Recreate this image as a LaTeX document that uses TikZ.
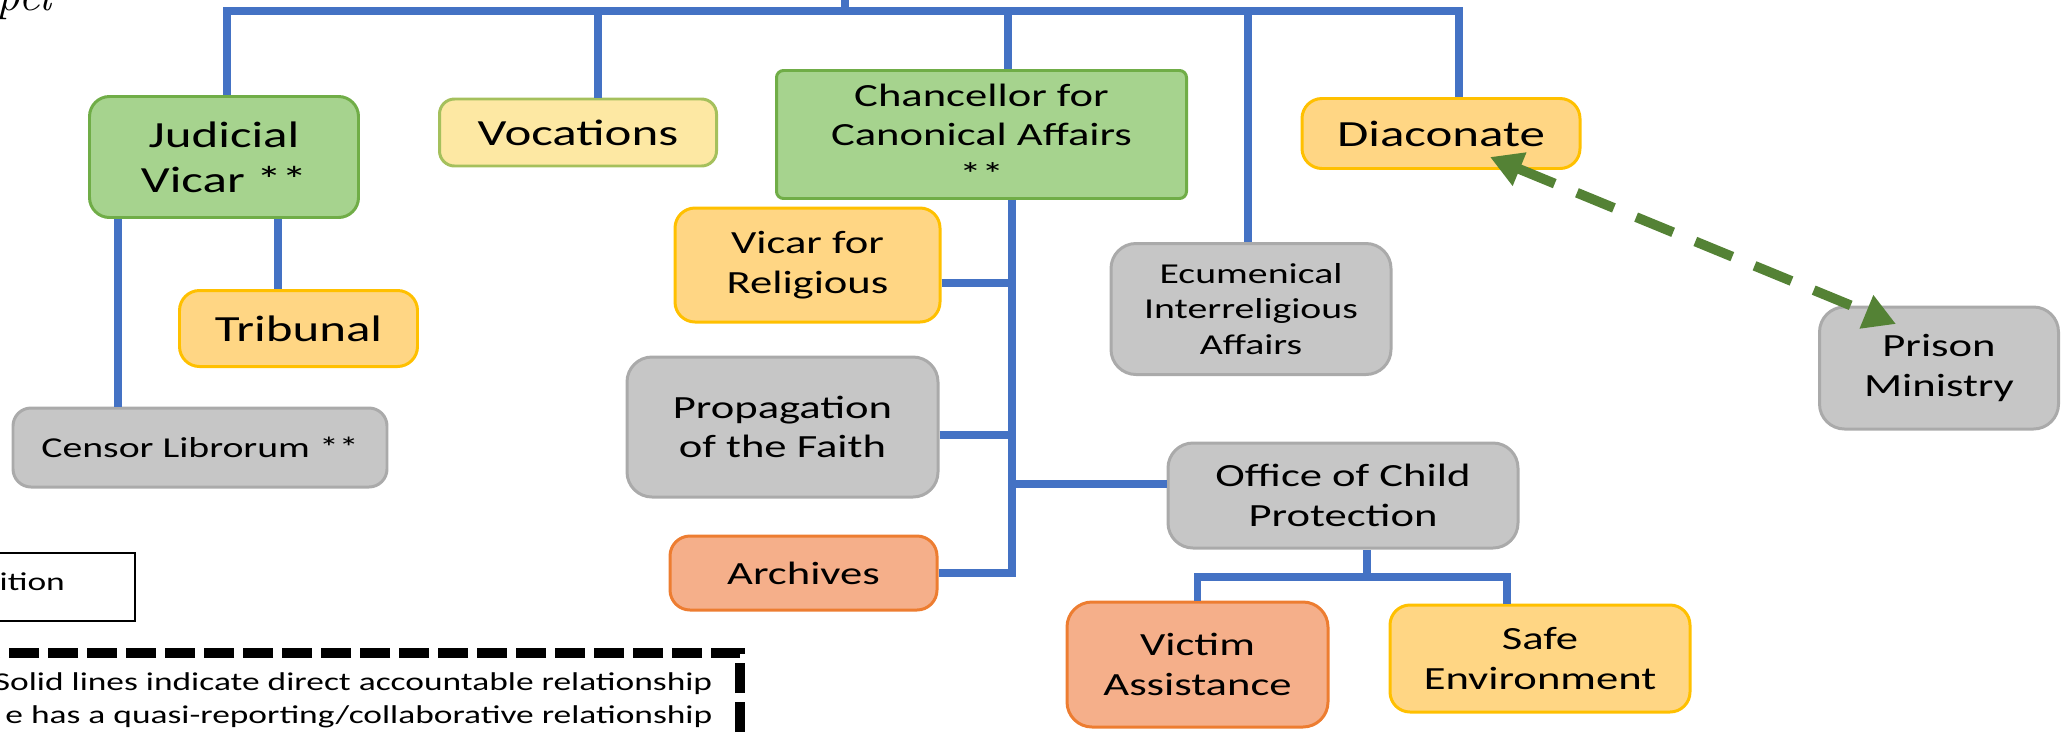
\documentclass[tikz,border=0pt]{standalone}
\usepackage{fontspec}
\usepackage{tikz}
\usetikzlibrary{arrows.meta}
\newfontfamily\calfont[FakeStretch=1.38]{Carlito}

\definecolor{linkblue}{RGB}{68,114,196}
\definecolor{arrowgreen}{RGB}{84,130,53}
\definecolor{greenfill}{RGB}{166,211,142}
\definecolor{greenline}{RGB}{112,173,71}
\definecolor{yellowfill}{RGB}{255,214,132}
\definecolor{yellowline}{RGB}{255,192,0}
\definecolor{palefill}{RGB}{253,232,163}
\definecolor{paleline}{RGB}{165,192,92}
\definecolor{grayfill}{RGB}{198,198,198}
\definecolor{grayline}{RGB}{170,170,170}
\definecolor{salmonfill}{RGB}{245,175,138}
\definecolor{salmonline}{RGB}{237,125,49}

\begin{document}
\begin{tikzpicture}[x=0.1mm,y=-0.1mm,
    box/.style={draw,line width=0.85pt,rounded corners=2mm,align=center,inner sep=0pt,text=black},
    greenbox/.style={box,fill=greenfill,draw=greenline},
    yellowbox/.style={box,fill=yellowfill,draw=yellowline},
    palebox/.style={box,fill=palefill,draw=paleline,rounded corners=1.5mm},
    graybox/.style={box,fill=grayfill,draw=grayline,rounded corners=2.5mm},
    salmonbox/.style={box,fill=salmonfill,draw=salmonline},
    bigtext/.style={font=\calfont\fontsize{10.5}{12.8}\selectfont},
    midtext/.style={font=\calfont\fontsize{9.2}{11.3}\selectfont},
    smalltext/.style={font=\calfont\fontsize{8.2}{10}\selectfont},
    legendtext/.style={font=\calfont\fontsize{7.3}{9}\selectfont,inner sep=0pt},
    link/.style={draw=linkblue,line width=2.2pt},
    quasi/.style={draw=arrowgreen,line width=2.8pt,dash pattern=on 4mm off 2.4mm,
        {Triangle[length=3.2mm,width=3.4mm]}-{Triangle[length=3.2mm,width=3.4mm]}}]
    \useasboundingbox (0,0) rectangle (2062,735);
    \clip (0,0) rectangle (2062,735);

    \node[anchor=base west,inner sep=0pt,font=\fontsize{13.5}{15}\selectfont\itshape] (pel) at (-4,10) {pel};

    \node[greenbox,bigtext,minimum width=26.9mm,minimum height=12.1mm] (jud) at (224,157) {Judicial\\Vicar **};
    \node[palebox,bigtext,minimum width=27.7mm,minimum height=6.7mm] (voc) at (578,132.5) {Vocations};
    \node[greenbox,midtext,rounded corners=0.7mm,minimum width=41mm,minimum height=12.8mm] (chan) at (981.5,134.5) {Chancellor for\\Canonical Affairs\\**};
    \node[yellowbox,bigtext,minimum width=27.8mm,minimum height=7mm] (dia) at (1441,133.5) {Diaconate};
    \node[yellowbox,midtext,minimum width=26.5mm,minimum height=11.4mm] (vfr) at (807.5,265) {Vicar for\\Religious};
    \node[yellowbox,bigtext,minimum width=23.8mm,minimum height=7.6mm] (tri) at (298.5,328.5) {Tribunal};
    \node[graybox,smalltext,minimum width=28mm,minimum height=13.1mm] (ecu) at (1251,309) {Ecumenical\\Interreligious\\Affairs};
    \node[graybox,midtext,minimum width=23.9mm,minimum height=12.2mm] (pri) at (1939,368) {Prison\\Ministry};
    \node[graybox,smalltext,rounded corners=1.8mm,minimum width=37.4mm,minimum height=7.9mm] (cen) at (200,447.5) {Censor Librorum **};
    \node[graybox,midtext,minimum width=31.1mm,minimum height=14mm] (pro) at (782.5,427) {Propagation\\of the Faith};
    \node[graybox,midtext,minimum width=35mm,minimum height=10.5mm] (ocp) at (1343,495.5) {Office of Child\\Protection};
    \node[salmonbox,midtext,minimum width=26.7mm,minimum height=7.4mm] (arc) at (803.5,573) {Archives};
    \node[salmonbox,midtext,rounded corners=2.5mm,minimum width=26.1mm,minimum height=12.5mm] (vas) at (1197.5,664.5) {Victim\\Assistance};
    \node[yellowbox,midtext,minimum width=30mm,minimum height=10.7mm] (safe) at (1540,658.5) {Safe\\Environment};

    \coordinate (head) at (845,-20);
    \coordinate (busL) at (227,11);
    \coordinate (busR) at (1459,11);
    \coordinate (trunk) at ([xshift=3.05mm]chan.south);
    \coordinate (split) at (1367,577);

    \draw[link] (busL |- jud.north) -- (busL) -- (busR) -- (busR |- dia.north);
    \draw[link] (head) -- (head |- busL);
    \draw[link] ([xshift=2mm]voc.north) -- ([xshift=2mm]voc.north |- busL);
    \draw[link] ([xshift=2.65mm]chan.north) -- ([xshift=2.65mm]chan.north |- busL);
    \draw[link] ([xshift=-0.3mm]ecu.north) -- ([xshift=-0.3mm]ecu.north |- busL);

    \draw[link] ([xshift=-10.6mm]jud.south) -- ([xshift=-10.6mm]jud.south |- cen.north);
    \draw[link] ([xshift=5.4mm]jud.south) -- ([xshift=5.4mm]jud.south |- tri.north);

    \draw[link] (trunk) -- (trunk |- arc.east) -- (arc.east);
    \draw[link] ([yshift=-1.8mm]vfr.east) -- ([yshift=-1.8mm]vfr.east -| trunk);
    \draw[link] ([yshift=-0.8mm]pro.east) -- ([yshift=-0.8mm]pro.east -| trunk);
    \draw[link] ([yshift=1.15mm]ocp.west) -- ([yshift=1.15mm]ocp.west -| trunk);

    \draw[link] (split) -- (split |- ocp.south);
    \draw[link] (vas.north) |- (split) -| ([xshift=-3.3mm]safe.north);

    \coordinate (diatip) at (1490,157);
    \coordinate (pritip) at (1896,324);
    \draw[quasi] (diatip) -- (pritip);

    \draw[line width=0.8pt] (-20,553) rectangle (135,621);
    \node[legendtext,anchor=west] (pos) at (-1,582) {ition};

    \draw[line width=2.8pt,dash pattern=on 3mm off 0.9mm] (-20,653) rectangle (740,800);
    \node[legendtext,anchor=east] (solid) at (713,684) {Solid lines indicate direct accountable relationship};
    \node[legendtext,anchor=east] (dashed) at (713,717) {e has a quasi-reporting/collaborative relationship};
\end{tikzpicture}
\end{document}
